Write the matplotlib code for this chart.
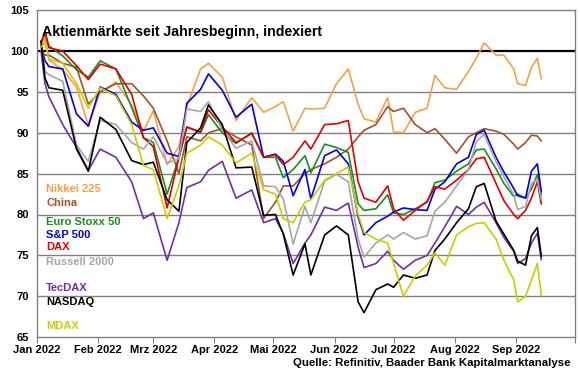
import numpy as np
import pandas as pd
import matplotlib
matplotlib.use("Agg")
import matplotlib.pyplot as plt

plt.rcParams['font.family'] = ['Liberation Sans', 'DejaVu Sans']
plt.rcParams['font.weight'] = 'bold'

dates = pd.to_datetime([
    "2022-01-03", "2022-01-05", "2022-01-07", "2022-01-14", "2022-01-21", "2022-01-27",
    "2022-02-02", "2022-02-10", "2022-02-18", "2022-02-24", "2022-03-01", "2022-03-08",
    "2022-03-14", "2022-03-18", "2022-03-25", "2022-03-29", "2022-04-05", "2022-04-12",
    "2022-04-20", "2022-04-26", "2022-05-02", "2022-05-06", "2022-05-11", "2022-05-17",
    "2022-05-20", "2022-05-27", "2022-06-02", "2022-06-08", "2022-06-13", "2022-06-16",
    "2022-06-22", "2022-06-28", "2022-07-01", "2022-07-06", "2022-07-12", "2022-07-18",
    "2022-07-22", "2022-07-27", "2022-08-02", "2022-08-08", "2022-08-12", "2022-08-16",
    "2022-08-22", "2022-08-26", "2022-08-31", "2022-09-02", "2022-09-06", "2022-09-09",
    "2022-09-12", "2022-09-14"])

nikkei = [100, 101.8, 98.9, 97.7, 95.6, 90.9, 94.9, 96.2, 93.4, 90.2, 92.7, 86.1,
          88.3, 93.2, 97.8, 98.5, 96.8, 91.5, 94.3, 92.5, 93.2, 93.8, 90.2, 93.0,
          92.9, 93.0, 96.0, 97.8, 93.5, 91.7, 91.3, 94.3, 90.1, 90.0, 92.5, 93.0,
          97.0, 95.5, 95.3, 97.5, 99.1, 101.0, 99.5, 99.5, 97.8, 96.0, 95.8, 98.0,
          99.1, 96.6]
china = [100, 99.5, 99.5, 98.5, 98.0, 93.5, 95.0, 96.0, 96.0, 94.5, 93.0, 89.0,
         85.0, 89.5, 89.0, 90.0, 90.5, 89.5, 88.5, 79.5, 81.5, 83.5, 83.5, 85.0,
         85.5, 86.2, 87.0, 88.0, 89.5, 90.3, 91.0, 93.2, 92.6, 93.0, 91.0, 90.0,
         90.5, 89.2, 87.5, 89.5, 90.0, 90.5, 90.2, 89.8, 88.6, 88.0, 88.8, 89.7,
         89.6, 89.0]
eurostoxx = [101.0, 102.2, 100.6, 99.4, 97.7, 96.8, 98.8, 97.8, 93.1, 89.4, 88.8, 82.5,
             87.0, 90.7, 90.0, 92.2, 90.0, 88.7, 90.0, 87.0, 87.0, 84.5, 85.5, 87.2,
             85.1, 88.6, 88.2, 87.6, 81.3, 80.5, 80.7, 82.4, 80.2, 80.0, 80.7, 81.5,
             83.9, 84.2, 85.3, 86.2, 87.9, 88.0, 85.6, 83.8, 82.2, 82.5, 82.0, 83.1,
             84.9, 82.4]
sp500 = [100.6, 98.8, 98.1, 97.8, 92.3, 90.8, 95.6, 94.7, 91.3, 90.3, 90.6, 87.5,
         87.1, 93.6, 95.3, 97.2, 95.2, 91.9, 93.5, 87.0, 87.4, 86.5, 82.3, 85.5,
         81.9, 87.2, 87.9, 86.2, 79.7, 77.5, 79.0, 79.8, 80.3, 80.8, 80.6, 80.5,
         83.1, 84.0, 86.2, 87.0, 89.8, 90.3, 87.0, 85.2, 83.2, 82.3, 82.0, 85.3,
         86.2, 82.8]
dax = [101.0, 102.4, 100.4, 100.0, 98.2, 96.5, 98.4, 97.8, 94.7, 89.4, 88.3, 80.8,
       87.0, 90.7, 90.1, 92.8, 90.7, 88.8, 89.9, 87.0, 87.3, 86.1, 87.0, 89.0,
       88.0, 91.0, 91.1, 91.5, 84.0, 82.0, 81.5, 83.5, 80.7, 79.3, 80.5, 81.6,
       83.4, 83.1, 84.2, 85.5, 86.8, 87.0, 83.8, 81.7, 80.0, 79.5, 80.5, 82.0,
       84.0, 81.3]
russell = [101.2, 97.5, 97.1, 96.3, 88.5, 86.5, 91.5, 91.0, 88.8, 88.0, 89.5, 86.3,
           86.8, 92.9, 92.6, 93.8, 90.4, 88.1, 89.0, 83.5, 83.4, 81.9, 76.4, 81.0,
           79.0, 84.1, 84.9, 84.0, 77.0, 74.8, 76.5, 77.5, 77.0, 77.8, 77.0, 77.4,
           80.4, 81.5, 83.5, 85.5, 88.9, 89.8, 86.5, 84.6, 82.4, 80.6, 81.0, 83.8,
           84.3, 81.9]
tecdax = [100, 96.0, 94.4, 91.0, 88.2, 85.4, 88.0, 87.0, 84.0, 79.5, 80.2, 74.4,
          79.0, 83.3, 84.0, 85.4, 86.5, 82.0, 83.0, 79.0, 79.5, 77.7, 74.0, 76.5,
          77.5, 80.9, 80.5, 81.4, 76.0, 73.5, 74.0, 75.5, 74.4, 73.3, 74.4, 75.0,
          76.5, 78.5, 81.0, 80.0, 80.9, 81.5, 79.0, 77.2, 75.5, 74.0, 74.6, 76.5,
          77.7, 74.5]
nasdaq = [101.2, 96.7, 95.5, 95.2, 88.0, 85.3, 91.9, 90.4, 86.6, 86.1, 86.4, 81.8,
          80.4, 88.8, 90.6, 93.4, 91.0, 85.7, 85.8, 79.9, 80.0, 77.6, 72.6, 76.4,
          72.6, 77.5, 78.6, 77.5, 69.3, 68.0, 70.8, 71.5, 71.1, 72.6, 72.2, 72.6,
          75.6, 77.0, 79.0, 80.7, 83.4, 83.8, 79.2, 77.6, 75.6, 74.3, 73.8, 77.4,
          78.4, 74.9]
mdax = [100.5, 101.0, 99.0, 98.5, 96.0, 93.0, 95.5, 94.5, 91.0, 86.0, 85.5, 79.5,
        83.5, 87.5, 88.5, 89.5, 88.5, 86.3, 87.5, 83.0, 82.5, 79.5, 79.0, 81.5,
        81.8, 84.2, 85.0, 85.8, 80.0, 77.8, 77.0, 76.5, 74.0, 70.0, 72.5, 73.8,
        75.3, 73.8, 77.5, 78.5, 78.9, 79.0, 77.0, 74.4, 72.0, 69.3, 70.0, 72.0,
        74.0, 70.1]

names = ["Nikkei 225", "China", "Euro Stoxx 50", "S&P 500", "DAX",
         "Russell 2000", "TecDAX", "NASDAQ", "MDAX"]
series = [nikkei, china, eurostoxx, sp500, dax, russell, tecdax, nasdaq, mdax]
colors = ["#F4A04C", "#A0522D", "#1E8C1E", "#0000E0", "#E00000",
          "#A6A6A6", "#7030A0", "#000000", "#CCCC00"]
label_y = [83.1, 81.4, 79.1, 77.5, 76.0, 74.2, 71.0, 69.3, 66.3]

fig = plt.figure(figsize=(5.8, 3.75), dpi=100)
ax = fig.add_axes([0.064, 0.101, 0.927, 0.872])

for v in range(70, 100, 5):
    ax.axhline(v, color="#808080", lw=1.0, zorder=1)
ax.axhline(100, color="black", lw=1.6, zorder=1)

for s, c in zip(series, colors):
    ax.plot(dates, s, color=c, lw=1.2, zorder=3)

for n, c, yv in zip(names, colors, label_y):
    ax.text(0.017, yv, n, color=c, fontsize=8, fontweight="bold",
            va="center", ha="left", transform=ax.get_yaxis_transform(), zorder=4)

ax.text(0.01, 0.955, "Aktienmärkte seit Jahresbeginn, indexiert", transform=ax.transAxes,
        fontsize=10.2, fontweight="bold", va="top", ha="left")

ax.set_ylim(65, 105)
ax.set_yticks(range(65, 106, 5))
ax.set_xlim(pd.Timestamp("2022-01-01"), pd.Timestamp("2022-10-01"))
months = pd.date_range("2022-01-01", "2022-10-01", freq="MS")
ax.set_xticks(months)
labels = ["Jan 2022", "Feb 2022", "Mrz 2022", "Apr 2022", "Mai 2022", "Jun 2022",
          "Jul 2022", "Aug 2022", "Sep 2022", ""]
ax.set_xticklabels(labels)
ax.tick_params(axis="x", length=4, color="#808080", labelsize=8, pad=2)
ax.tick_params(axis="y", length=0, labelsize=8, pad=6)
for sp in ax.spines.values():
    sp.set_color("#808080")
    sp.set_linewidth(1.0)

fig.text(0.984, 0.032, "Quelle: Refinitiv, Baader Bank Kapitalmarktanalyse",
         ha="right", va="center", fontsize=8.2, fontweight="bold")

fig.savefig("out.png", dpi=100)
